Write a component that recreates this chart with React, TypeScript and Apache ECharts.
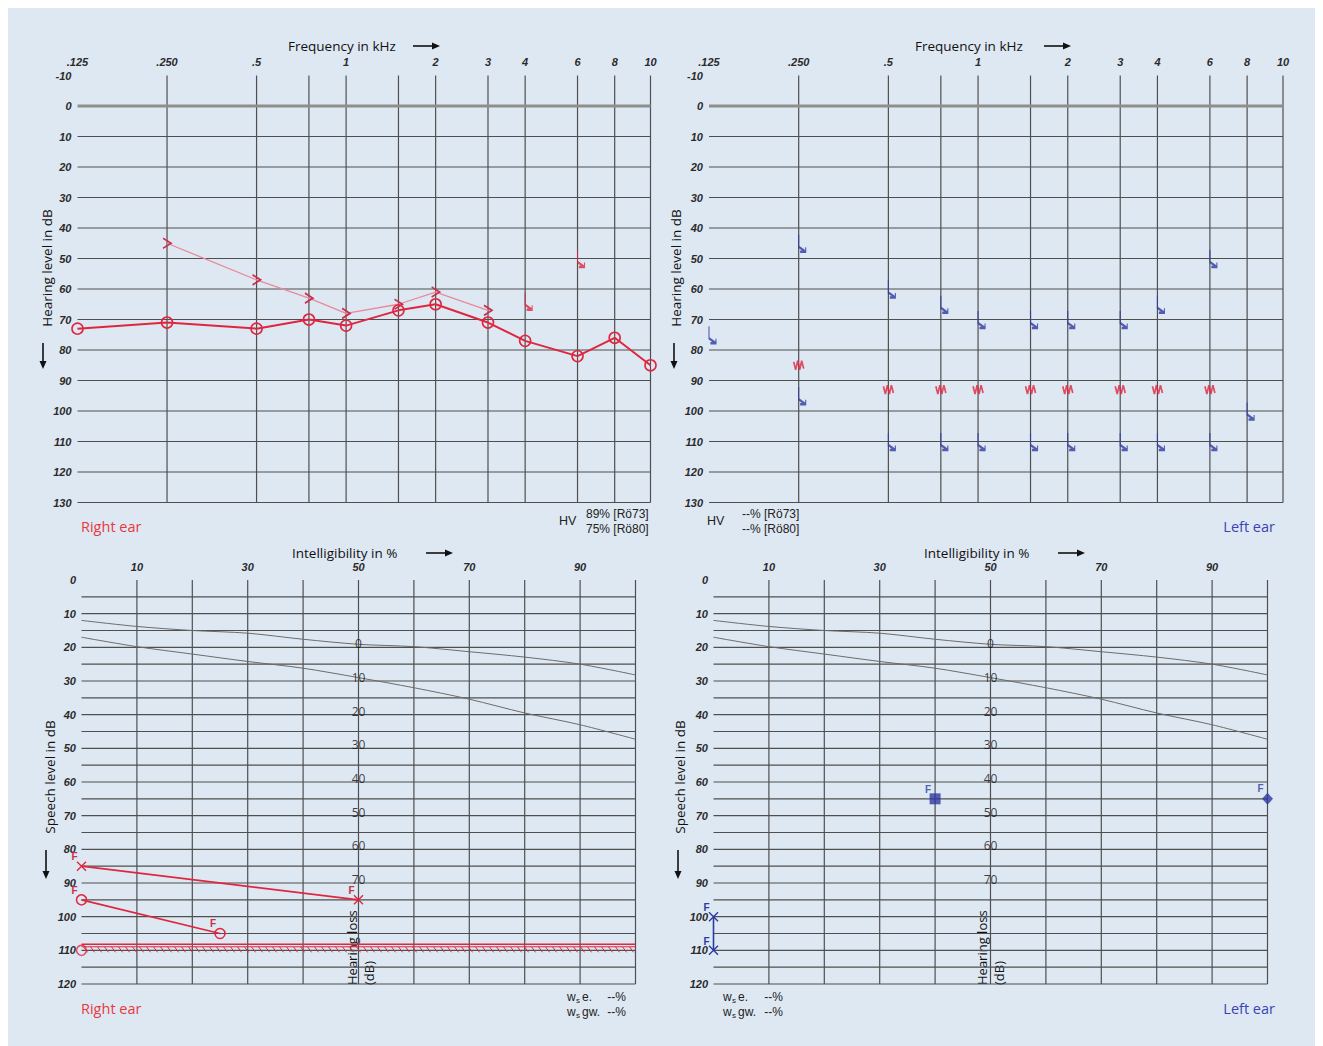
import React, { useEffect, useRef } from "react";
import * as echarts from "echarts";

// ---------- axes / ticks ----------
const FREQ_TICKS = [0.125, 0.25, 0.5, 1, 2, 3, 4, 6, 8, 10];
const FREQ_TICK_LABELS = [".125", ".250", ".5", "1", "2", "3", "4", "6", "8", "10"];
const FREQ_GRID = [0.25, 0.5, 0.75, 1, 1.5, 2, 3, 4, 6, 8, 10];
const HL_MIN = -10;
const HL_MAX = 130;
const PCT_MIN = 0;
const PCT_MAX = 100;
const SPL_MIN = 0;
const SPL_MAX = 120;
// on this form the 10 kHz column closes the sheet at 6.4 octaves above 125 Hz
const X_MAX = 6.4;
const freqPos = (f: number) => (f >= 10 ? X_MAX : Math.log2(f / 0.125));

// ---------- right ear, tone audiogram ----------
const R_AIR_FREQ = [0.125, 0.25, 0.5, 0.75, 1, 1.5, 2, 3, 4, 6, 8, 10];
const R_AIR_DB = [73, 71, 73, 70, 72, 67, 65, 71, 77, 82, 76, 85];
const R_BONE_FREQ = [0.25, 0.5, 0.75, 1, 1.5, 2, 3];
const R_BONE_DB = [45, 57, 63, 68, 65, 61, 67];
const R_NR_FREQ = [4, 6];
const R_NR_DB = [64, 50];

// ---------- left ear, tone audiogram ----------
const L_NR_FREQ = [0.125, 0.25, 0.25, 0.5, 0.5, 0.75, 0.75, 1, 1, 1.5, 1.5, 2, 2, 3, 3, 4, 4, 6, 6, 8];
const L_NR_DB = [75, 45, 95, 60, 110, 65, 110, 70, 110, 70, 110, 70, 110, 70, 110, 65, 110, 50, 110, 100];
const L_VIB_FREQ = [0.25, 0.5, 0.75, 1, 1.5, 2, 3, 4, 6];
const L_VIB_DB = [85, 93, 93, 93, 93, 93, 93, 93, 93];

// ---------- speech audiogram reference curves ----------
const PCT = [0, 10, 20, 30, 40, 50, 60, 70, 80, 90, 100];
const NUMBERS_CURVE = [12, 13.8, 15, 15.8, 17.6, 19.1, 19.8, 21.3, 22.9, 25, 28.2];
const WORDS_CURVE = [17, 19.8, 22, 24.2, 26.2, 29, 32, 35.4, 39.5, 43, 47.3];
const HL_LABELS = [0, 10, 20, 30, 40, 50, 60, 70];
const HL_LABEL_PCT = 50;
const HL_OFFSET = 19;

// ---------- right ear, speech ----------
const R_SP_X_PCT = [0, 50];
const R_SP_X_DB = [85, 95];
const R_SP_O_PCT = [0, 25];
const R_SP_O_DB = [95, 105];
const R_SP_O2_PCT = [0];
const R_SP_O2_DB = [110];
const R_UCL_DB = 108.5;

// ---------- left ear, speech ----------
const L_SP_SQ_PCT = [40];
const L_SP_SQ_DB = [65];
const L_SP_DIA_PCT = [100];
const L_SP_DIA_DB = [65];
const L_SP_X_PCT = [0, 0];
const L_SP_X_DB = [100, 110];

// ---------- styles ----------
const BG = "#dee8f3";
const GRIDC = "#4f4f4f";
const RED = "#e0263f";
const RED_LIGHT = "#e98a9b";
const RED_DARK = "#c8304a";
const BLUE = "#2e3aa0";
const BLUE_TXT = "#3a43b4";
const SANS = "'Open Sans', 'Noto Sans', 'Liberation Sans', sans-serif";
const AXF = "'Liberation Sans', Arial, sans-serif";
const NARROW = "'Liberation Sans Narrow', 'Arial Narrow', 'Liberation Sans', sans-serif";

const SYM_CHEVRON = "path://M0,0 L8,5 L0,10";
const SYM_NR = "path://M0,0 L0,12 L5,17 M5,12.5 L5,17 L1,17";
const SYM_ZIG = "path://M0,2 L2,9 L4,1 L6,9 L8,1 L10,8";
const SYM_CROSS = "path://M0,0 L10,10 M10,0 L0,10";

const axisLabelFont = {
  fontStyle: "italic" as const,
  fontWeight: "bold" as const,
  fontSize: 11,
  fontFamily: AXF,
  color: "#2b2b2b",
};

function segSeries(idx: number, segs: number[][], style: any, z = 1) {
  return {
    type: "custom",
    xAxisIndex: idx,
    yAxisIndex: idx,
    silent: true,
    z,
    clip: false,
    data: segs,
    encode: { x: [0, 2], y: [1, 3] },
    renderItem: (_p: any, api: any) => {
      const a = api.coord([api.value(0), api.value(1)]);
      const b = api.coord([api.value(2), api.value(3)]);
      return { type: "line", shape: { x1: a[0], y1: a[1], x2: b[0], y2: b[1] }, style };
    },
  };
}

function hatchSeries(idx: number, x0: number, x1: number, y: number) {
  return {
    type: "custom",
    xAxisIndex: idx,
    yAxisIndex: idx,
    silent: true,
    z: 4,
    clip: false,
    data: [[x0, x1, y]],
    encode: { x: [0, 1], y: [2] },
    renderItem: (_p: any, api: any) => {
      const a = api.coord([api.value(0), api.value(2)]);
      const b = api.coord([api.value(1), api.value(2)]);
      const children: any[] = [
        { type: "line", shape: { x1: a[0], y1: a[1] - 1, x2: b[0], y2: b[1] - 1 }, style: { stroke: RED, lineWidth: 1.4 } },
        { type: "line", shape: { x1: a[0], y1: a[1] + 1.5, x2: b[0], y2: b[1] + 1.5 }, style: { stroke: RED, lineWidth: 1 } },
      ];
      for (let x = a[0] + 2; x < b[0] - 4; x += 7) {
        children.push({
          type: "line",
          shape: { x1: x, y1: a[1] + 1.5, x2: x + 4, y2: a[1] + 7 },
          style: { stroke: RED, lineWidth: 1 },
        });
      }
      return { type: "group", children };
    },
  };
}

const zip = (xs: number[], ys: number[]) => xs.map((x, i) => [x, ys[i]]);
const fzip = (fs: number[], ys: number[]) => fs.map((f, i) => [freqPos(f), ys[i]]);

function fLabel(color: string) {
  return {
    show: true,
    formatter: "F",
    position: "top" as const,
    distance: 0,
    offset: [-7, 1],
    fontSize: 10,
    fontWeight: "bold" as const,
    fontFamily: AXF,
    color,
  };
}

function txt(x: number, y: number, text: string, o: any = {}, rotation = 0) {
  return {
    type: "text",
    x,
    y,
    rotation,
    silent: true,
    style: {
      text,
      fill: o.fill || "#111",
      fontSize: o.fontSize || 14,
      fontFamily: o.fontFamily || SANS,
      fontWeight: o.fontWeight || "normal",
      align: o.align || "left",
      verticalAlign: o.verticalAlign || "middle",
    },
  };
}

function arrowRight(x1: number, x2: number, y: number) {
  return [
    { type: "line", silent: true, shape: { x1, y1: y, x2: x2 - 5, y2: y }, style: { stroke: "#111", lineWidth: 1.6 } },
    { type: "polygon", silent: true, shape: { points: [[x2 - 8, y - 3.5], [x2, y], [x2 - 8, y + 3.5]] }, style: { fill: "#111" } },
  ];
}

function arrowDown(x: number, y1: number, y2: number) {
  return [
    { type: "line", silent: true, shape: { x1: x, y1, x2: x, y2: y2 - 5 }, style: { stroke: "#111", lineWidth: 1.6 } },
    { type: "polygon", silent: true, shape: { points: [[x - 3.5, y2 - 8], [x, y2], [x + 3.5, y2 - 8]] }, style: { fill: "#111" } },
  ];
}

function wsLines(x: number, y: number, pctRight: number) {
  const o = { fontSize: 12, fontFamily: NARROW, fill: "#222" };
  const out: any[] = [];
  [
    ["e.", y],
    ["gw.", y + 15],
  ].forEach(([lbl, yy]: any) => {
    out.push(txt(x, yy, "w", o));
    out.push(txt(x + 9, yy + 3, "s", { ...o, fontSize: 8 }));
    out.push(txt(x + 15, yy, lbl, o));
    out.push(txt(pctRight, yy, "--%", { ...o, align: "right" }));
  });
  return out;
}

function buildOption(): any {
  const grids = [
    { left: 69.5, top: 67.5, width: 573, height: 427 },
    { left: 701, top: 67.5, width: 574, height: 427 },
    { left: 73.5, top: 572, width: 554, height: 404 },
    { left: 705.5, top: 572, width: 554, height: 404 },
  ];

  const freqTickPos = FREQ_TICKS.map(freqPos);
  const freqAxis = (gridIndex: number) => ({
    type: "value",
    gridIndex,
    min: 0,
    max: X_MAX,
    position: "top",
    axisLine: { show: false },
    axisTick: { show: false },
    splitLine: { show: false },
    axisLabel: {
      ...axisLabelFont,
      margin: 8,
      customValues: freqTickPos,
      formatter: (v: number) => {
        const i = freqTickPos.findIndex((p) => Math.abs(p - v) < 1e-6);
        return i >= 0 ? FREQ_TICK_LABELS[i] : "";
      },
    },
  });
  const pctAxis = (gridIndex: number) => ({
    type: "value",
    gridIndex,
    min: PCT_MIN,
    max: PCT_MAX,
    interval: 10,
    position: "top",
    axisLine: { show: false },
    axisTick: { show: false },
    splitLine: { show: false },
    axisLabel: {
      ...axisLabelFont,
      margin: 8,
      formatter: (v: number) => (v % 20 === 10 ? String(v) : ""),
    },
  });
  const hlAxis = (gridIndex: number) => ({
    type: "value",
    gridIndex,
    inverse: true,
    min: HL_MIN,
    max: HL_MAX,
    interval: 10,
    axisLine: { show: false },
    axisTick: { show: false },
    splitLine: { show: false },
    axisLabel: { ...axisLabelFont, margin: 6 },
  });
  const splAxis = (gridIndex: number) => ({
    type: "value",
    gridIndex,
    inverse: true,
    min: SPL_MIN,
    max: SPL_MAX,
    interval: 10,
    axisLine: { show: false },
    axisTick: { show: false },
    splitLine: { show: false },
    axisLabel: { ...axisLabelFont, margin: 5.5 },
  });

  const gStyle = { stroke: GRIDC, lineWidth: 1.2 };
  const series: any[] = [];

  // tone audiogram grids
  for (const g of [0, 1]) {
    series.push(segSeries(g, FREQ_GRID.map((f) => [freqPos(f), HL_MIN, freqPos(f), HL_MAX]), gStyle));
    const hs: number[][] = [];
    for (let d = 10; d <= HL_MAX; d += 10) hs.push([0, d, X_MAX, d]);
    series.push(segSeries(g, hs, gStyle));
    series.push(segSeries(g, [[0, 0, X_MAX, 0]], { stroke: "#8e8e8e", lineWidth: 3.2 }));
  }
  // speech audiogram grids
  for (const g of [2, 3]) {
    const vs: number[][] = [];
    for (let p = 10; p <= PCT_MAX; p += 10) vs.push([p, SPL_MIN, p, SPL_MAX]);
    series.push(segSeries(g, vs, gStyle));
    const hs: number[][] = [];
    for (let d = 5; d <= SPL_MAX; d += 5) hs.push([PCT_MIN, d, PCT_MAX, d]);
    series.push(segSeries(g, hs, gStyle));
    for (const curve of [NUMBERS_CURVE, WORDS_CURVE]) {
      series.push({
        type: "line",
        xAxisIndex: g,
        yAxisIndex: g,
        data: zip(PCT, curve),
        symbol: "none",
        smooth: 0.3,
        silent: true,
        z: 2,
        lineStyle: { color: "#6b6b6b", width: 1 },
      });
    }
    series.push({
      type: "scatter",
      xAxisIndex: g,
      yAxisIndex: g,
      data: HL_LABELS.map((h) => [HL_LABEL_PCT, h + HL_OFFSET, h]),
      symbolSize: 1,
      itemStyle: { color: "rgba(0,0,0,0)" },
      silent: true,
      z: 3,
      label: {
        show: true,
        position: "inside",
        formatter: (p: any) => String(p.data[2]),
        color: "#111",
        fontSize: 12,
        fontFamily: SANS,
      },
    });
  }

  // right ear tone
  series.push({
    type: "line",
    xAxisIndex: 0,
    yAxisIndex: 0,
    data: fzip(R_BONE_FREQ, R_BONE_DB),
    symbol: SYM_CHEVRON,
    symbolSize: [8, 10],
    clip: false,
    z: 5,
    lineStyle: { color: RED_LIGHT, width: 1.3 },
    itemStyle: { color: "rgba(0,0,0,0)", borderColor: RED_DARK, borderWidth: 1.6 },
  });
  series.push({
    type: "line",
    xAxisIndex: 0,
    yAxisIndex: 0,
    data: fzip(R_AIR_FREQ, R_AIR_DB),
    symbol: "circle",
    symbolSize: 11,
    clip: false,
    z: 6,
    lineStyle: { color: RED, width: 2 },
    itemStyle: { color: "rgba(0,0,0,0)", borderColor: RED, borderWidth: 1.6 },
  });
  series.push({
    type: "scatter",
    xAxisIndex: 0,
    yAxisIndex: 0,
    data: fzip(R_NR_FREQ, R_NR_DB),
    symbol: SYM_NR,
    symbolSize: [7, 17],
    symbolOffset: [3.5, 0],
    clip: false,
    z: 6,
    itemStyle: { color: "rgba(0,0,0,0)", borderColor: RED, borderWidth: 1.6 },
  });

  // left ear tone
  series.push({
    type: "scatter",
    xAxisIndex: 1,
    yAxisIndex: 1,
    data: fzip(L_NR_FREQ, L_NR_DB),
    symbol: SYM_NR,
    symbolSize: [7, 17],
    symbolOffset: [3.5, 0],
    clip: false,
    z: 6,
    itemStyle: { color: "rgba(0,0,0,0)", borderColor: BLUE, borderWidth: 1.7 },
  });
  series.push({
    type: "scatter",
    xAxisIndex: 1,
    yAxisIndex: 1,
    data: fzip(L_VIB_FREQ, L_VIB_DB),
    symbol: SYM_ZIG,
    symbolSize: [10, 9],
    clip: false,
    z: 6,
    itemStyle: { color: "rgba(0,0,0,0)", borderColor: RED, borderWidth: 1.6 },
  });

  // right ear speech
  series.push(hatchSeries(2, PCT_MIN, PCT_MAX, R_UCL_DB));
  series.push({
    type: "line",
    xAxisIndex: 2,
    yAxisIndex: 2,
    data: zip(R_SP_X_PCT, R_SP_X_DB),
    symbol: SYM_CROSS,
    symbolSize: 9,
    clip: false,
    z: 6,
    lineStyle: { color: RED, width: 1.8 },
    itemStyle: { color: "rgba(0,0,0,0)", borderColor: RED, borderWidth: 1.4 },
    label: fLabel(RED_DARK),
  });
  series.push({
    type: "line",
    xAxisIndex: 2,
    yAxisIndex: 2,
    data: zip(R_SP_O_PCT, R_SP_O_DB),
    symbol: "circle",
    symbolSize: 10,
    clip: false,
    z: 6,
    lineStyle: { color: RED, width: 1.8 },
    itemStyle: { color: "rgba(0,0,0,0)", borderColor: RED, borderWidth: 1.5 },
    label: fLabel(RED_DARK),
  });
  series.push({
    type: "scatter",
    xAxisIndex: 2,
    yAxisIndex: 2,
    data: zip(R_SP_O2_PCT, R_SP_O2_DB),
    symbol: "circle",
    symbolSize: 10,
    clip: false,
    z: 6,
    itemStyle: { color: "rgba(0,0,0,0)", borderColor: RED, borderWidth: 1.5 },
  });

  // left ear speech
  series.push({
    type: "scatter",
    xAxisIndex: 3,
    yAxisIndex: 3,
    data: zip(L_SP_SQ_PCT, L_SP_SQ_DB),
    symbol: "rect",
    symbolSize: 11,
    clip: false,
    z: 6,
    itemStyle: { color: BLUE },
    label: fLabel(BLUE),
  });
  series.push({
    type: "scatter",
    xAxisIndex: 3,
    yAxisIndex: 3,
    data: zip(L_SP_DIA_PCT, L_SP_DIA_DB),
    symbol: "diamond",
    symbolSize: [11, 12],
    clip: false,
    z: 6,
    itemStyle: { color: BLUE },
    label: fLabel(BLUE),
  });
  series.push({
    type: "line",
    xAxisIndex: 3,
    yAxisIndex: 3,
    data: zip(L_SP_X_PCT, L_SP_X_DB),
    symbol: SYM_CROSS,
    symbolSize: 9,
    clip: false,
    z: 6,
    lineStyle: { color: BLUE, width: 1.6 },
    itemStyle: { color: "rgba(0,0,0,0)", borderColor: BLUE, borderWidth: 1.4 },
    label: fLabel(BLUE),
  });

  const hvO = { fontSize: 12, fontFamily: NARROW, fill: "#222" };
  const graphic: any[] = [
    // tone titles
    txt(280, 38, "Frequency in kHz", { fontSize: 13.5 }),
    ...arrowRight(405, 432, 38),
    txt(907, 38, "Frequency in kHz", { fontSize: 13.5 }),
    ...arrowRight(1036, 1063, 38),
    txt(39, 260, "Hearing level in dB", { fontSize: 13.5, align: "center" }, Math.PI / 2),
    ...arrowDown(35, 335, 361),
    txt(668, 260, "Hearing level in dB", { fontSize: 13.5, align: "center" }, Math.PI / 2),
    ...arrowDown(666, 335, 361),
    txt(73, 518, "Right ear", { fontSize: 14.5, fill: "#e8383d" }),
    txt(1267, 518, "Left ear", { fontSize: 14.5, fill: BLUE_TXT, align: "right" }),
    txt(551, 513, "HV", { ...hvO, fontSize: 12.5 }),
    txt(578, 506, "89% [Rö73]", hvO),
    txt(578, 521, "75% [Rö80]", hvO),
    txt(699, 513, "HV", { ...hvO, fontSize: 12.5 }),
    txt(734, 506, "--% [Rö73]", hvO),
    txt(734, 521, "--% [Rö80]", hvO),
    // speech titles
    txt(284, 545, "Intelligibility in %", { fontSize: 13.5 }),
    ...arrowRight(418, 445, 545),
    txt(916, 545, "Intelligibility in %", { fontSize: 13.5 }),
    ...arrowRight(1050, 1077, 545),
    txt(42, 769, "Speech level in dB", { fontSize: 13.5, align: "center" }, Math.PI / 2),
    ...arrowDown(38, 842, 871),
    txt(672, 769, "Speech level in dB", { fontSize: 13.5, align: "center" }, Math.PI / 2),
    ...arrowDown(670, 842, 871),
    txt(344, 977, "Hearing loss", { fontSize: 13 }, Math.PI / 2),
    txt(361, 977, "(dB)", { fontSize: 13 }, Math.PI / 2),
    txt(974, 977, "Hearing loss", { fontSize: 13 }, Math.PI / 2),
    txt(991, 977, "(dB)", { fontSize: 13 }, Math.PI / 2),
    txt(73, 1000, "Right ear", { fontSize: 14.5, fill: "#e8383d" }),
    txt(1267, 1000, "Left ear", { fontSize: 14.5, fill: BLUE_TXT, align: "right" }),
    ...wsLines(559, 989, 618),
    ...wsLines(715, 989, 775),
  ];

  return {
    animation: false,
    backgroundColor: BG,
    grid: grids,
    xAxis: [freqAxis(0), freqAxis(1), pctAxis(2), pctAxis(3)],
    yAxis: [hlAxis(0), hlAxis(1), splAxis(2), splAxis(3)],
    series,
    graphic,
  };
}

export default function App() {
  const ref = useRef<HTMLDivElement>(null);
  useEffect(() => {
    if (!ref.current) return;
    const chart = echarts.init(ref.current, null, { renderer: "svg" });
    chart.setOption(buildOption());
    return () => chart.dispose();
  }, []);
  return <div ref={ref} style={{ width: 1315, height: 1038, background: BG }} />;
}
